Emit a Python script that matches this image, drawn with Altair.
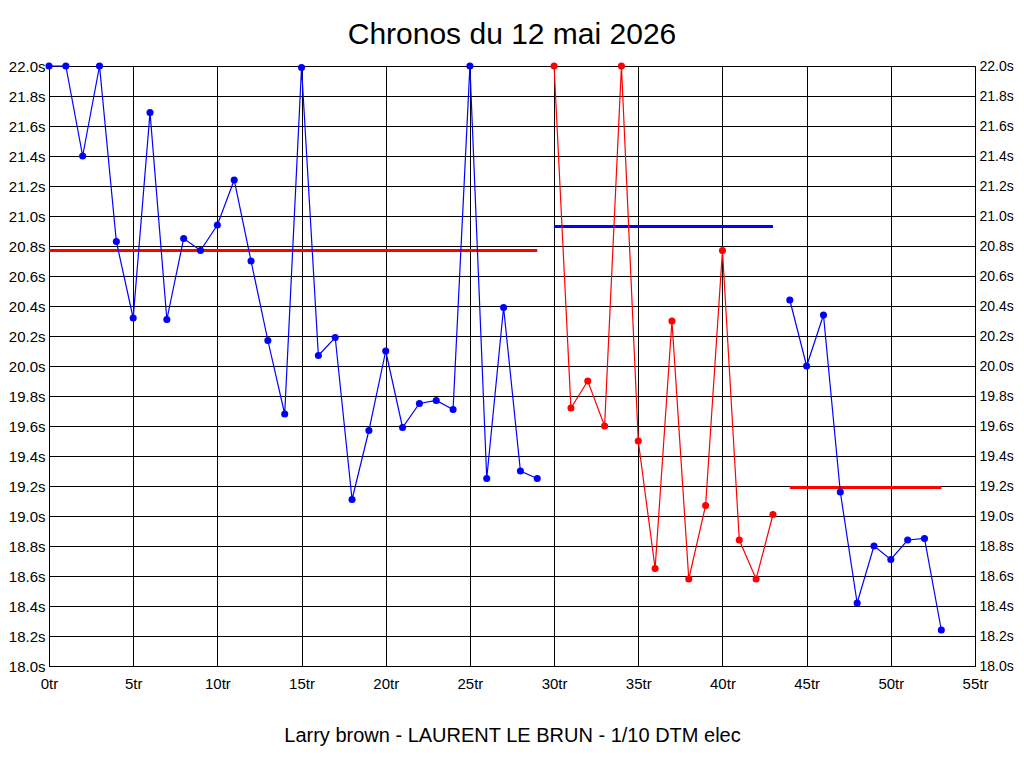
import altair as alt
import pandas as pd

laps = list(range(54))
times = [22.00, 22.00, 21.40, 22.00, 20.83, 20.32, 21.69, 20.31, 20.85, 20.77,
         20.94, 21.24, 20.70, 20.17, 19.68, 21.99, 20.07, 20.19, 19.11, 19.57,
         20.10, 19.59, 19.75, 19.77, 19.71, 22.00, 19.25, 20.39, 19.30, 19.25,
         22.00, 19.72, 19.90, 19.60, 22.00, 19.50, 18.65, 20.30, 18.58, 19.07,
         20.77, 18.84, 18.58, 19.01,
         20.44, 20.00, 20.34, 19.16, 18.42, 18.80, 18.71, 18.84, 18.85, 18.24]
segments = [1] * 30 + [2] * 14 + [3] * 10
seg_colors = {1: "blue", 2: "red", 3: "blue"}

mean_start = [0, 30, 44]
mean_end = [29, 43, 53]
mean_value = [20.77, 20.93, 19.19]
mean_color = ["red", "blue", "red"]

TITLE = "Chronos du 12 mai 2026"
SUBTITLE = "Larry brown - LAURENT LE BRUN - 1/10 DTM elec"

df = pd.DataFrame({"lap": laps, "time": times, "seg": segments,
                   "color": [seg_colors[s] for s in segments]})
means = pd.DataFrame({"x0": mean_start, "x1": mean_end, "m": mean_value,
                      "color": mean_color})

FONT = "Liberation Sans"
xscale = alt.Scale(domain=[0, 55], nice=False, zero=False)
yscale = alt.Scale(domain=[18, 22], nice=False, zero=False)

xaxis = alt.Axis(values=list(range(0, 56, 5)), labelExpr="datum.value + 'tr'",
                 title=SUBTITLE, titleFontSize=20, titleFontWeight="normal",
                 titleFont=FONT, titleColor="black", titlePadding=34,
                 labelFont=FONT, labelFontSize=15, labelColor="black",
                 labelPadding=10, labelFlush=False, tickSize=0, grid=True,
                 gridColor="black", gridOpacity=1, gridWidth=1,
                 domainColor="black")
yvals = [round(18 + 0.2 * i, 1) for i in range(21)]
yaxis_left = alt.Axis(values=yvals, labelExpr="format(datum.value, '.1f') + 's'",
                      title=None, labelFont=FONT, labelFontSize=15,
                      labelColor="black", labelPadding=4, labelFlush=False,
                      tickSize=0, grid=True, gridColor="black", gridOpacity=1,
                      gridWidth=1, domainColor="black")
yaxis_right = alt.Axis(values=yvals, labelExpr="format(datum.value, '.1f') + 's'",
                       title=None, orient="right", labelFont=FONT,
                       labelFontSize=14, labelColor="black", labelPadding=4,
                       labelFlush=False, tickSize=0, grid=False,
                       domainColor="black")

base = alt.Chart(df)
lines = base.mark_line(strokeWidth=1.2).encode(
    x=alt.X("lap:Q", scale=xscale, axis=xaxis),
    y=alt.Y("time:Q", scale=yscale, axis=yaxis_left),
    detail="seg:N",
    color=alt.Color("color:N", scale=None),
)
points = base.mark_circle(size=50, opacity=1).encode(
    x=alt.X("lap:Q", scale=xscale),
    y=alt.Y("time:Q", scale=yscale, axis=yaxis_left),
    color=alt.Color("color:N", scale=None),
)
rules = alt.Chart(means).mark_rule(strokeWidth=3).encode(
    x=alt.X("x0:Q", scale=xscale),
    x2="x1:Q",
    y=alt.Y("m:Q", scale=yscale, axis=yaxis_left),
    color=alt.Color("color:N", scale=None),
)
left = alt.layer(rules, lines, points)
right = base.mark_circle(size=0, opacity=0).encode(
    x=alt.X("lap:Q", scale=xscale),
    y=alt.Y("time:Q", scale=yscale, axis=yaxis_right),
)

chart = alt.layer(left, right).resolve_scale(y="independent").properties(
    width=926, height=600,
    title=alt.TitleParams(TITLE, fontSize=30, font=FONT, fontWeight="normal",
                          color="black", anchor="middle", frame="group",
                          offset=9),
    autosize=alt.AutoSizeParams(type="none"),
    padding={"left": 41, "top": 58, "right": 41, "bottom": 94},
).configure_view(stroke="black", strokeWidth=1).configure(background="white")

chart.save("out.html", embed_options={"renderer": "svg", "actions": False})
